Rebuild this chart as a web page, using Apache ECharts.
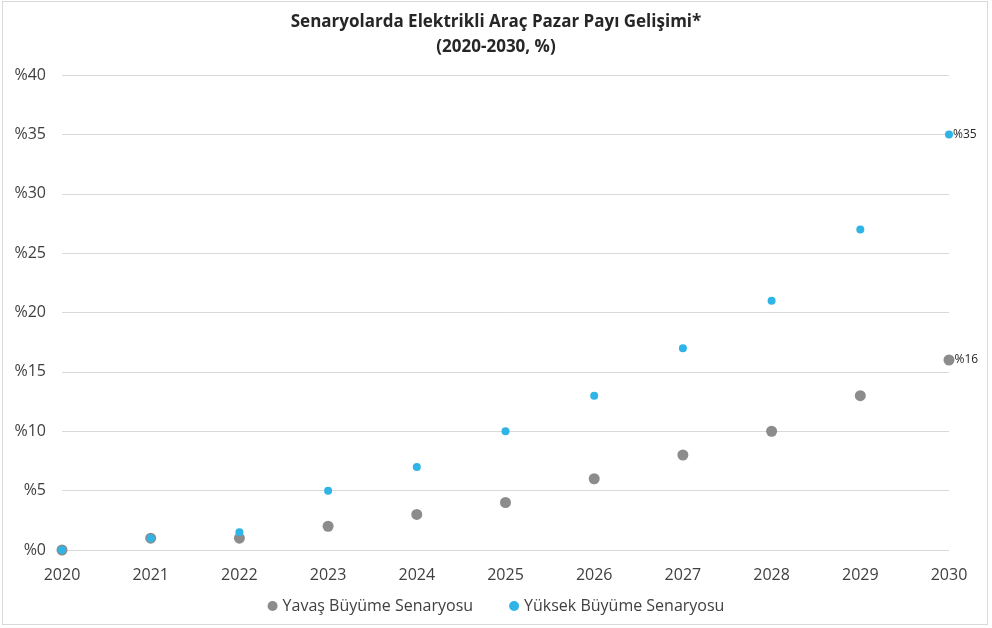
<!DOCTYPE html>
<html><head><meta charset="utf-8">
<script src="https://cdn.jsdelivr.net/npm/echarts@6/dist/echarts.min.js"></script>
<style>html,body{margin:0;padding:0;background:#fff}#c{width:992px;height:628px}
#frame{position:absolute;left:2px;top:1px;width:984px;height:622px;border:1px solid #d9d9d9;pointer-events:none}</style>
</head><body><div id="c"></div><div id="frame"></div>
<script>
const years = [2020,2021,2022,2023,2024,2025,2026,2027,2028,2029,2030];
const slowValues = [0,1,1,2,3,4,6,8,10,13,16];
const fastValues = [0,1,1.5,5,7,10,13,17,21,27,35];
const slowName = 'Yavaş Büyüme Senaryosu';
const fastName = 'Yüksek Büyüme Senaryosu';
const titleText = 'Senaryolarda Elektrikli Araç Pazar Payı Gelişimi*\n(2020-2030, %)';

const font = 'Open Sans, Liberation Sans, sans-serif';
function mk(vals){ return years.map((y,i)=>[y, vals[i]]); }
const chart = echarts.init(document.getElementById('c'));
const lastLabel = {
  show: true, position: 'right', distance: 0,
  formatter: p => (p.dataIndex === years.length-1 ? '%' + p.value[1] : ''),
  color: '#262626', fontSize: 12, fontFamily: font
};
chart.setOption({
  animation: false,
  title: {
    text: titleText, left: 'center', top: 5,
    textStyle: {fontSize: 17, fontWeight: 'bold', color: '#262626', fontFamily: font, lineHeight: 25}
  },
  legend: {
    bottom: 9, left: 'center', itemGap: 36, itemWidth: 10, itemHeight: 10,
    textStyle: {fontSize: 16, color: '#404040', fontFamily: font},
    data: [{name: slowName, icon: 'circle'}, {name: fastName, icon: 'circle'}]
  },
  grid: {left: 62, right: 43, top: 75, bottom: 78},
  xAxis: {
    type: 'value', min: 2020, max: 2030, interval: 1,
    axisLine: {show: false}, axisTick: {show: false}, splitLine: {show: false},
    axisLabel: {fontSize: 16, color: '#404040', fontFamily: font, margin: 17, formatter: v => String(v)}
  },
  yAxis: {
    type: 'value', min: 0, max: 40, interval: 5,
    axisLine: {show: false}, axisTick: {show: false},
    splitLine: {lineStyle: {color: '#d9d9d9', width: 1}},
    axisLabel: {fontSize: 16, color: '#404040', fontFamily: font, margin: 16, formatter: v => '%' + v}
  },
  series: [
    {name: slowName, type: 'scatter', data: mk(slowValues), symbolSize: 11,
     itemStyle: {color: '#8c8c8c', opacity: 1}, label: lastLabel},
    {name: fastName, type: 'scatter', data: mk(fastValues), symbolSize: 8,
     itemStyle: {color: '#2eb4e6', opacity: 1}, label: lastLabel}
  ]
});
</script></body></html>
